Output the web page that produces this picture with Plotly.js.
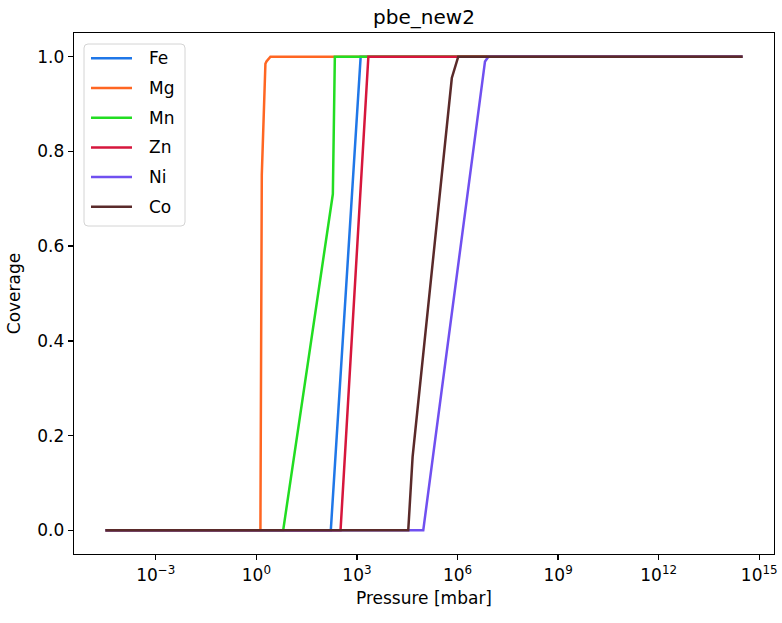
<!DOCTYPE html>
<html>
<head>
<meta charset="utf-8">
<script src="https://cdn.plot.ly/plotly-3.0.1.min.js"></script>
<style>html,body{margin:0;padding:0;background:#fff;}#chart{width:782px;height:623px;}</style>
</head>
<body>
<div id="chart"></div>
<script>
// Pressure [mbar] and coverage per metal
const fePressure = [3.16e-5, 1.66e2, 1.29e3, 3.16e14];
const feCoverage = [0, 0, 1, 1];
const mgPressure = [3.16e-5, 1.32, 1.45, 1.86, 2.0, 2.63, 3.16e14];
const mgCoverage = [0, 0, 0.75, 0.985, 0.99, 1, 1];
const mnPressure = [3.16e-5, 6.3, 1.91e2, 2.19e2, 3.16e14];
const mnCoverage = [0, 0, 0.71, 1, 1];
const znPressure = [3.16e-5, 3.24e2, 2.19e3, 3.16e14];
const znCoverage = [0, 0, 1, 1];
const niPressure = [3.16e-5, 9.5e4, 6.6e6, 8.3e6, 3.16e14];
const niCoverage = [0, 0, 0.99, 1, 1];
const coPressure = [3.16e-5, 3.39e4, 4.57e4, 6.76e5, 1.05e6, 3.16e14];
const coCoverage = [0, 0, 0.155, 0.955, 1, 1];

const seriesNames = ['Fe', 'Mg', 'Mn', 'Zn', 'Ni', 'Co'];
const seriesColors = ['#1f77e8', '#ff6622', '#22dd22', '#d6163c', '#7050f0', '#5a2a2a'];
const seriesX = [fePressure, mgPressure, mnPressure, znPressure, niPressure, coPressure];
const seriesY = [feCoverage, mgCoverage, mnCoverage, znCoverage, niCoverage, coCoverage];

const xTickVals = [1e-3, 1e0, 1e3, 1e6, 1e9, 1e12, 1e15];
const xTickText = ['10<sup>−3</sup>', '10<sup>0</sup>', '10<sup>3</sup>', '10<sup>6</sup>', '10<sup>9</sup>', '10<sup>12</sup>', '10<sup>15</sup>'];
const yTickVals = [0, 0.2, 0.4, 0.6, 0.8, 1.0];

const traces = seriesNames.map((n, i) => ({
  type: 'scatter', mode: 'lines', name: n, showlegend: false,
  x: seriesX[i], y: seriesY[i],
  line: {color: seriesColors[i], width: 2.5}
}));

// Plot frame geometry (pixels) used to place the legend box in paper coordinates
const plotL = 74, plotW = 700, plotT = 33, plotH = 521;
const px = v => (v - plotL) / plotW;
const py = v => (plotT + plotH - v) / plotH;

// legend box (rounded) and entries
const bx0 = px(84), bx1 = px(185), by0 = py(226), by1 = py(44);
const rx = 4 / plotW, ry = 4 / plotH;
const boxPath = `M${bx0 + rx},${by1} L${bx1 - rx},${by1} Q${bx1},${by1} ${bx1},${by1 - ry} ` +
  `L${bx1},${by0 + ry} Q${bx1},${by0} ${bx1 - rx},${by0} L${bx0 + rx},${by0} ` +
  `Q${bx0},${by0} ${bx0},${by0 + ry} L${bx0},${by1 - ry} Q${bx0},${by1} ${bx0 + rx},${by1} Z`;
const shapes = [{type: 'path', xref: 'paper', yref: 'paper', path: boxPath,
  line: {color: '#d4d4d4', width: 1}, fillcolor: 'rgba(255,255,255,0.8)', layer: 'above'}];
const font = 'DejaVu Sans, sans-serif';
const annotations = [];
seriesNames.forEach((n, i) => {
  const yy = py(58.3 + 29.7 * i);
  shapes.push({type: 'line', xref: 'paper', yref: 'paper', x0: px(91), x1: px(132), y0: yy, y1: yy,
    line: {color: seriesColors[i], width: 2.5}, layer: 'above'});
  annotations.push({xref: 'paper', yref: 'paper', x: px(147), y: yy, xanchor: 'left', yanchor: 'middle',
    text: n, showarrow: false, font: {family: font, size: 17, color: '#000'}});
});

const layout = {
  width: 782, height: 623,
  margin: {l: 74, r: 8, t: 33, b: 69},
  paper_bgcolor: '#fff', plot_bgcolor: '#fff',
  font: {family: font, size: 17, color: '#000'},
  title: {text: 'pbe_new2', font: {family: font, size: 20, color: '#000'},
          x: 0.5, xref: 'paper', xanchor: 'center', y: 1, yref: 'paper', yanchor: 'bottom', pad: {b: 9}},
  xaxis: {
    type: 'log', range: [-5.44, 15.44],
    tickvals: xTickVals, ticktext: xTickText,
    ticks: 'outside', ticklen: 5, tickwidth: 1.3, tickcolor: '#000',
    showline: true, linecolor: '#000', linewidth: 1.3, mirror: true,
    showgrid: false, zeroline: false,
    tickfont: {family: font, size: 17, color: '#000'},
    title: {text: 'Pressure [mbar]', font: {family: font, size: 17, color: '#000'}, standoff: 8},
    automargin: false
  },
  yaxis: {
    range: [-0.05, 1.05],
    tickvals: yTickVals, tickformat: '.1f',
    ticks: 'outside', ticklen: 5, tickwidth: 1.3, tickcolor: '#000',
    showline: true, linecolor: '#000', linewidth: 1.3, mirror: true,
    showgrid: false, zeroline: false,
    tickfont: {family: font, size: 17, color: '#000'},
    title: {text: 'Coverage', font: {family: font, size: 17, color: '#000'}, standoff: 12},
    automargin: false
  },
  showlegend: false,
  shapes: shapes,
  annotations: annotations
};

Plotly.newPlot('chart', traces, layout, {displayModeBar: false, staticPlot: true});
</script>
</body>
</html>
